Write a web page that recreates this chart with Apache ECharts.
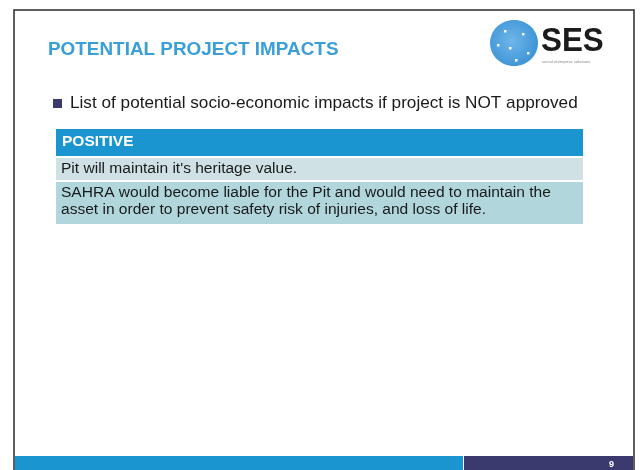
<!DOCTYPE html>
<html>
<head>
<meta charset="utf-8">
<script src="https://cdn.jsdelivr.net/npm/echarts@6/dist/echarts.min.js"></script>
<style>
  html, body { margin: 0; padding: 0; background: #fff; }
  #main { width: 641px; height: 470px; }
</style>
</head>
<body>
<div id="main"></div>
<script>
// slide texts
const slideTitle = 'POTENTIAL PROJECT IMPACTS';
const bulletText = 'List of potential socio-economic impacts if project is NOT approved';
const tableHeader = 'POSITIVE';
const tableRows = [
    ["Pit will maintain it's heritage value."],
    ['SAHRA would become liable for the Pit and would need to maintain the',
     'asset in order to prevent safety risk of injuries, and loss of life.']
];
const logoText = 'SES';
const logoTagline = 'social enterprise solutions';
const pageNumber = '9';

const chart = echarts.init(document.getElementById('main'));

const font = '"Liberation Sans", Arial, sans-serif';
const els = [];

function txt(x, y, s, fill, f, sx) {
    els.push({ type: 'text', x: x, y: y, scaleX: sx || 1,
        style: { text: s, fill: fill, font: f, textVerticalAlign: 'middle' } });
}

// frame
els.push({ type: 'rect', shape: { x: 14, y: 10, width: 620, height: 470 },
    style: { fill: '#fff', stroke: '#2b2b2b', lineWidth: 1.5 } });

// title
txt(48, 50, slideTitle, '#3a9fd8', 'bold 18px ' + font, 1.05);

// logo globe
els.push({ type: 'ellipse', shape: { cx: 514, cy: 43, rx: 24, ry: 23 },
    style: { fill: { type: 'radial', x: 0.45, y: 0.45, r: 0.6,
        colorStops: [{ offset: 0, color: '#6fb6ea' }, { offset: 1, color: '#3d93d6' }] } } });
[[504, 30], [522, 33], [509, 47], [527, 52], [497, 44], [515, 59]].forEach(function (p) {
    els.push({ type: 'rect', shape: { x: p[0], y: p[1], width: 2.5, height: 2.5 }, style: { fill: '#fff' } });
});
txt(541, 42, logoText, '#1c1c1c', 'bold 33px ' + font, 0.95);
txt(542, 62, logoTagline, '#888', '3px ' + font, 1.4);

// bullet
els.push({ type: 'rect', shape: { x: 53, y: 99, width: 9, height: 9 }, style: { fill: '#3b3a6e' } });
txt(70, 103, bulletText, '#1a1a1a', '17px ' + font, 1.01);

// table
const tx = 56, tw = 527;
els.push({ type: 'rect', shape: { x: tx, y: 129, width: tw, height: 27 }, style: { fill: '#1b95d0' } });
txt(tx + 6, 141.5, tableHeader, '#fff', 'bold 15.5px ' + font);

const rowFills = ['#cfe1e5', '#b1d7dc'];
const rowTops = [158, 182];
const rowHeights = [22, 42];
const lineGap = 17;
tableRows.forEach(function (lines, i) {
    els.push({ type: 'rect', shape: { x: tx, y: rowTops[i], width: tw, height: rowHeights[i] },
        style: { fill: rowFills[i] } });
    lines.forEach(function (ln, j) {
        txt(tx + 5, rowTops[i] + 11.5 + j * lineGap, ln, '#1a1a1a', '14px ' + font, 1.11);
    });
});

// footer
els.push({ type: 'rect', shape: { x: 15, y: 456, width: 448, height: 14 }, style: { fill: '#1b95d0' } });
els.push({ type: 'rect', shape: { x: 464, y: 456, width: 169, height: 14 }, style: { fill: '#3b3a6e' } });
txt(609, 465, pageNumber, '#fff', 'bold 9px ' + font, 1);

chart.setOption({ animation: false, graphic: { elements: els } });
</script>
</body>
</html>
